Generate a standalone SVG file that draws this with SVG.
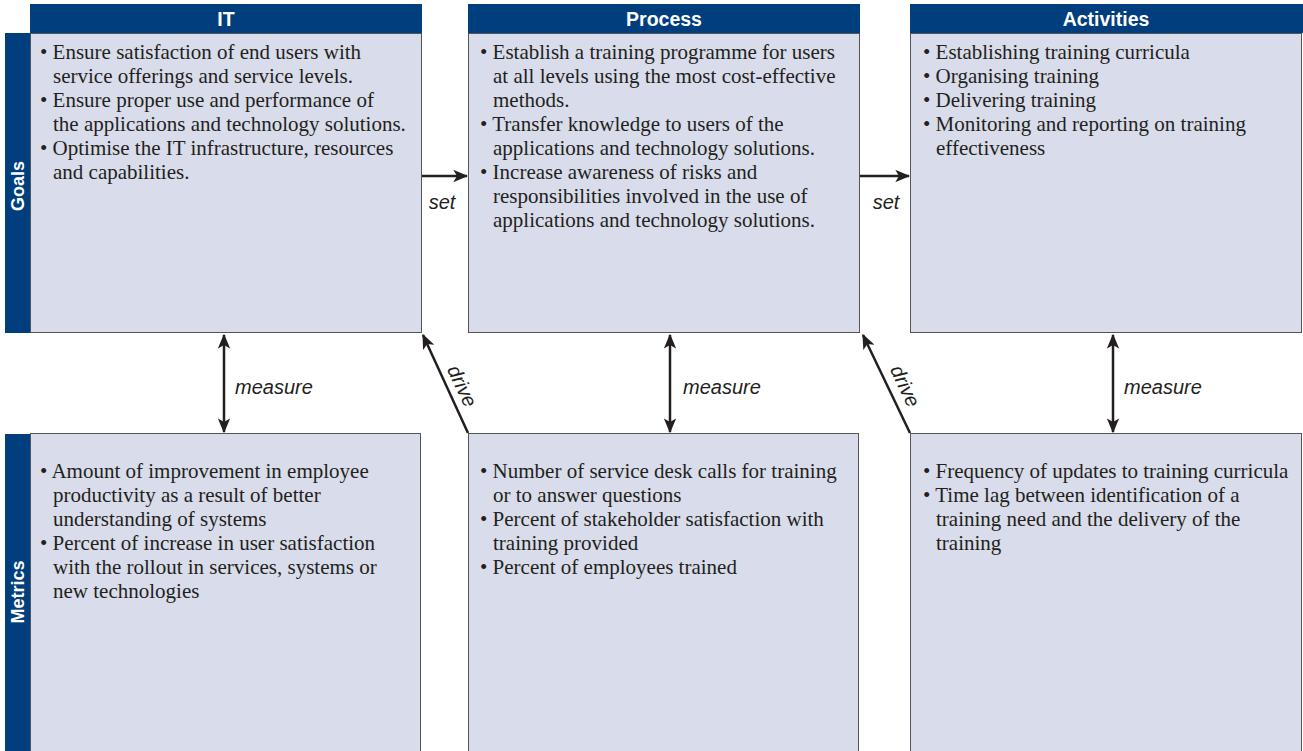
<svg xmlns="http://www.w3.org/2000/svg" width="1303" height="751" viewBox="0 0 1303 751">
<style>
.box{fill:#d9dcea;stroke:#555;stroke-width:1}
.hdr{fill:#003e7e}
.ht{font-family:"Liberation Sans",Arial,sans-serif;font-weight:bold;font-size:19.5px;fill:#fff;text-anchor:middle}
.side{font-family:"Liberation Sans",Arial,sans-serif;font-weight:bold;font-size:18px;fill:#fff;text-anchor:middle}
.bt{font-family:"Liberation Serif","Times New Roman",serif;font-size:21px;fill:#231f20}
.lbl{font-family:"Liberation Sans",Arial,sans-serif;font-style:italic;font-size:20px;fill:#231f20}
.ln{stroke:#231f20;stroke-width:2.5;fill:none}
</style>
<defs>
<marker id="ah" viewBox="0 0 12 10" refX="11" refY="5" markerWidth="6" markerHeight="5" orient="auto-start-reverse" markerUnits="strokeWidth">
<path d="M0,0 L12,5 L0,10 L3,5 Z" fill="#231f20"/>
</marker>
</defs>
<rect x="0" y="0" width="1303" height="751" fill="#fff"/>
<g id="side-goals">
<rect class="hdr" x="5" y="33" width="26" height="300"/>
<text class="side" transform="translate(24,186) rotate(-90)">Goals</text>
</g>
<g id="side-metrics">
<rect class="hdr" x="5" y="434" width="26" height="317"/>
<text class="side" transform="translate(24,592) rotate(-90)">Metrics</text>
</g>
<g id="it-goals">
<rect class="hdr" x="30" y="4" width="392" height="29"/>
<text class="ht" x="226" y="26">IT</text>
<rect class="box" x="30.5" y="33.5" width="391" height="299"/>
<text class="bt"><tspan x="40" y="59">• Ensure satisfaction of end users with</tspan><tspan x="53" y="83">service offerings and service levels.</tspan><tspan x="40" y="107">• Ensure proper use and performance of</tspan><tspan x="53" y="131">the applications and technology solutions.</tspan><tspan x="40" y="155">• Optimise the IT infrastructure, resources</tspan><tspan x="53" y="179">and capabilities.</tspan></text>
</g>
<g id="process-goals">
<rect class="hdr" x="468" y="4" width="392" height="29"/>
<text class="ht" x="664" y="26">Process</text>
<rect class="box" x="468.5" y="33.5" width="391" height="299"/>
<text class="bt"><tspan x="480" y="59">• Establish a training programme for users</tspan><tspan x="493" y="83">at all levels using the most cost-effective</tspan><tspan x="493" y="107">methods.</tspan><tspan x="480" y="131">• Transfer knowledge to users of the</tspan><tspan x="493" y="155">applications and technology solutions.</tspan><tspan x="480" y="179">• Increase awareness of risks and</tspan><tspan x="493" y="203">responsibilities involved in the use of</tspan><tspan x="493" y="227">applications and technology solutions.</tspan></text>
</g>
<g id="activities-goals">
<rect class="hdr" x="910" y="4" width="393" height="29"/>
<text class="ht" x="1106" y="26">Activities</text>
<rect class="box" x="910.5" y="33.5" width="391" height="299"/>
<text class="bt"><tspan x="923" y="59">• Establishing training curricula</tspan><tspan x="923" y="83">• Organising training</tspan><tspan x="923" y="107">• Delivering training</tspan><tspan x="923" y="131">• Monitoring and reporting on training</tspan><tspan x="936" y="155">effectiveness</tspan></text>
</g>
<g id="it-metrics">
<rect class="box" x="30.5" y="433.5" width="390" height="320"/>
<text class="bt"><tspan x="40" y="478">• Amount of improvement in employee</tspan><tspan x="53" y="502">productivity as a result of better</tspan><tspan x="53" y="526">understanding of systems</tspan><tspan x="40" y="550">• Percent of increase in user satisfaction</tspan><tspan x="53" y="574">with the rollout in services, systems or</tspan><tspan x="53" y="598">new technologies</tspan></text>
</g>
<g id="process-metrics">
<rect class="box" x="468.5" y="433.5" width="390" height="320"/>
<text class="bt"><tspan x="480" y="478">• Number of service desk calls for training</tspan><tspan x="493" y="502">or to answer questions</tspan><tspan x="480" y="526">• Percent of stakeholder satisfaction with</tspan><tspan x="493" y="550">training provided</tspan><tspan x="480" y="574">• Percent of employees trained</tspan></text>
</g>
<g id="activities-metrics">
<rect class="box" x="910.5" y="433.5" width="391" height="320"/>
<text class="bt"><tspan x="923" y="478">• Frequency of updates to training curricula</tspan><tspan x="923" y="502">• Time lag between identification of a</tspan><tspan x="936" y="526">training need and the delivery of the</tspan><tspan x="936" y="550">training</tspan></text>
</g>
<g id="connectors">
<line class="ln" x1="422" y1="176" x2="467" y2="176" marker-end="url(#ah)"/>
<text class="lbl" x="442" y="209" text-anchor="middle">set</text>
<line class="ln" x1="860" y1="176" x2="909" y2="176" marker-end="url(#ah)"/>
<text class="lbl" x="886" y="209" text-anchor="middle">set</text>
<line class="ln" x1="224" y1="335" x2="224" y2="432" marker-start="url(#ah)" marker-end="url(#ah)"/>
<text class="lbl" x="235" y="394">measure</text>
<line class="ln" x1="670" y1="335" x2="670" y2="432" marker-start="url(#ah)" marker-end="url(#ah)"/>
<text class="lbl" x="683" y="394">measure</text>
<line class="ln" x1="1113" y1="335" x2="1113" y2="432" marker-start="url(#ah)" marker-end="url(#ah)"/>
<text class="lbl" x="1124" y="394">measure</text>
<line class="ln" x1="468" y1="433" x2="423" y2="335" marker-end="url(#ah)"/>
<text class="lbl" transform="translate(456,389) rotate(65)" text-anchor="middle">drive</text>
<line class="ln" x1="910" y1="433" x2="863" y2="335" marker-end="url(#ah)"/>
<text class="lbl" transform="translate(899,389) rotate(65)" text-anchor="middle">drive</text>
</g>
</svg>
